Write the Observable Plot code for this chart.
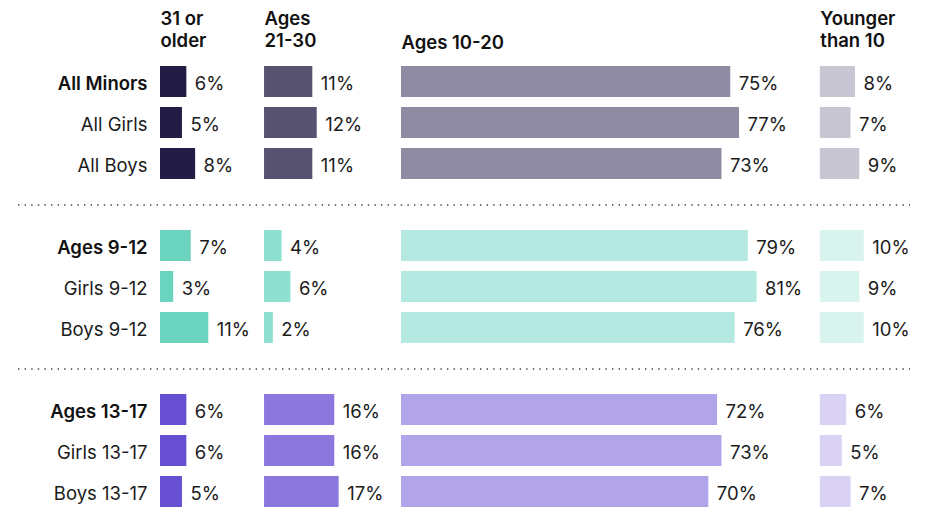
<!DOCTYPE html>
<html>
<head>
<meta charset="utf-8">
<script src="https://cdn.jsdelivr.net/npm/d3@7"></script>
<script src="https://cdn.jsdelivr.net/npm/@observablehq/plot@0.6"></script>
<style>
  html, body { margin: 0; padding: 0; background: #fff; }
  #chart svg { display: block; }
</style>
</head>
<body>
<div id="chart"></div>
<script>
// ---- data ----
const rows = ["All Minors", "All Girls", "All Boys", "Ages 9-12", "Girls 9-12", "Boys 9-12", "Ages 13-17", "Girls 13-17", "Boys 13-17"];
const boldRows = ["All Minors", "Ages 9-12", "Ages 13-17"];
const headers = ["31 or\nolder", "Ages\n21-30", "Ages 10-20", "Younger\nthan 10"];
const olderThan30 = [6, 5, 8, 7, 3, 11, 6, 6, 5];
const ages21to30 = [11, 12, 11, 4, 6, 2, 16, 16, 17];
const ages10to20 = [75, 77, 73, 79, 81, 76, 72, 73, 70];
const youngerThan10 = [8, 7, 9, 10, 9, 10, 6, 5, 7];

// ---- styling / layout ----
const palette = [
  ["#231c45", "#585271", "#8f8ba3", "#c8c6d2"],   // all minors
  ["#6bd4bf", "#8ddfcf", "#b3e9e0", "#d9f4ef"],   // 9-12
  ["#674fd1", "#8c77de", "#b1a4e8", "#d9d2f4"]    // 13-17
];
const colStart = [0, 23.7, 54.9, 150.3];  // column offsets in % units
const k = 4.39;                              // px per percentage point
const fs = 18.5;
const seriesValues = [olderThan30, ages21to30, ages10to20, youngerThan10];

const yDomain = [...rows.slice(0, 3), "gap1", ...rows.slice(3, 6), "gap2", ...rows.slice(6)];

const table = [];
rows.forEach((row, i) => {
  seriesValues.forEach((vals, j) => {
    table.push({row, col: j, value: vals[i], start: colStart[j], color: palette[Math.floor(i / 3)][j]});
  });
});
const headerData = headers.map((h, j) => ({text: h, x: colStart[j], multi: h.includes("\n")}));

const plot = Plot.plot({
  width: 926,
  height: 510,
  marginLeft: 18,
  marginRight: 16,
  marginTop: 0,
  marginBottom: 0,
  style: {fontFamily: "Inter, 'Noto Sans', sans-serif", fontSize: fs + "px", color: "#1b1b1b"},
  x: {domain: [0, 100], range: [160, 160 + 100 * k], axis: null},
  y: {type: "band", domain: yDomain, range: [66, 511.7], paddingInner: 0.234, paddingOuter: 0, align: 0, axis: null},
  color: {type: "identity"},
  marks: [
    Plot.ruleY(["gap1", "gap2"], {stroke: "#444", strokeWidth: 1.4, strokeDasharray: "1.4 5.2"}),
    Plot.barX(table, {x1: d => d.start, x2: d => d.start + d.value, y: "row", fill: "color"}),
    Plot.text(table, {x: d => d.start + d.value, y: "row", text: d => d.value + "%", dx: 8, dy: 2, textAnchor: "start", fill: "#1b1b1b", fontSize: fs}),
    Plot.text(rows.filter(r => !boldRows.includes(r)), {x: -13 / k, y: d => d, text: d => d, dy: 2, textAnchor: "end", fill: "#1b1b1b", fontSize: fs}),
    Plot.text(boldRows, {x: -13 / k, y: d => d, text: d => d, dy: 2, textAnchor: "end", fill: "#111", fontSize: fs, fontWeight: 600}),
    Plot.text(headerData.filter(d => d.multi), {x: "x", text: "text", frameAnchor: "top", dy: 46, lineAnchor: "bottom", lineHeight: 1.17, textAnchor: "start", fill: "#111", fontSize: fs, fontWeight: 600}),
    Plot.text(headerData.filter(d => !d.multi), {x: "x", text: "text", frameAnchor: "top", dy: 48, lineAnchor: "bottom", textAnchor: "start", fill: "#111", fontSize: fs, fontWeight: 600})
  ]
});
document.getElementById("chart").append(plot);
</script>
</body>
</html>
